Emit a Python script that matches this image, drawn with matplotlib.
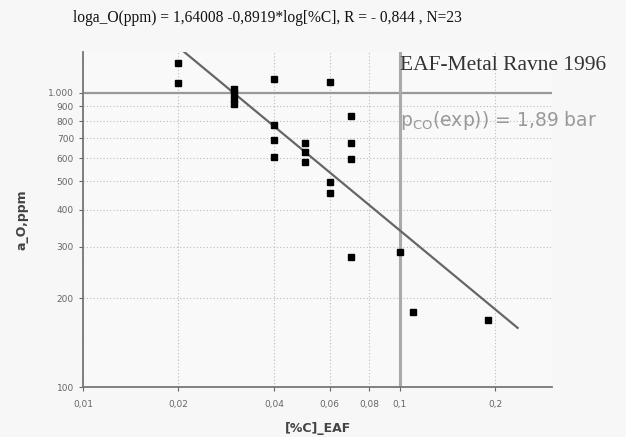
import numpy as np
import matplotlib.pyplot as plt

# data
carbon = [0.02, 0.02, 0.03, 0.03, 0.03, 0.03, 0.04, 0.04, 0.04, 0.04,
          0.05, 0.05, 0.05, 0.06, 0.06, 0.06, 0.07, 0.07, 0.07, 0.07,
          0.10, 0.11, 0.19]
a_oxygen = [1262, 1079, 1030, 998, 952, 918, 1116, 778, 692, 607,
            674, 631, 583, 1093, 499, 456, 835, 678, 595, 276,
            288, 180, 169]

# regression from title
b0 = 1.64008
b1 = -0.8919
fit_x = [0.0207, 0.235]

xticks = [0.01, 0.02, 0.04, 0.06, 0.08, 0.1, 0.2]
xticklabels = ['0,01', '0,02', '0,04', '0,06', '0,08', '0,1', '0,2']
yticks = [100, 200, 300, 400, 500, 600, 700, 800, 900, 1000]
yticklabels = ['100', '200', '300', '400', '500', '600', '700', '800', '900', '1.000']

fig = plt.figure(figsize=(6.26, 4.37), dpi=100, facecolor='#f7f7f7')
ax = fig.add_axes([0.1326, 0.1144, 0.7494, 0.7666])
ax.set_facecolor('#f9f9f9')

ax.set_xscale('log')
ax.set_yscale('log')
ax.set_xlim(0.01, 0.302)
ax.set_ylim(100, 1377)

ax.set_xticks(xticks)
ax.set_xticklabels(xticklabels)
ax.set_yticks(yticks)
ax.set_yticklabels(yticklabels)
ax.minorticks_off()
ax.tick_params(axis='both', labelsize=6.5, colors='#666666', length=3, width=0.8)
ax.tick_params(axis='x', pad=6)

ax.grid(True, which='major', linestyle=(0, (1, 2)), color='#bbbbbb', linewidth=0.8)
for s in ['top', 'right']:
    ax.spines[s].set_visible(False)
for s in ['left', 'bottom']:
    ax.spines[s].set_color('#777777')
    ax.spines[s].set_linewidth(1.3)

# reference lines
ax.axhline(1000, color='#999999', linewidth=1.6, zorder=2)
ax.axvline(0.1, color='#aaaaaa', linewidth=2.2, zorder=2)

fx = np.array(fit_x)
fy = 10 ** (b0 + b1 * np.log10(fx))
ax.plot(fx, fy, color='#666666', linewidth=1.6, zorder=3)

ax.plot(carbon, a_oxygen, 's', color='black', markersize=4.5, zorder=4)

fig.text(0.427, 0.958, 'loga_O(ppm) = 1,64008 -0,8919*log[%C], R = - 0,844 , N=23',
         ha='center', va='center', fontsize=11.2, family='Liberation Serif', color='#111111')
fig.text(0.639, 0.851, 'EAF-Metal Ravne 1996', ha='left', va='center',
         fontsize=15.5, family='Liberation Serif', color='#333333')
fig.text(0.639, 0.725, r'p$_{\mathrm{CO}}$(exp)) = 1,89 bar', ha='left', va='center',
         fontsize=13.5, color='#999999')

ax.set_xlabel('[%C]_EAF', fontsize=9, fontweight='bold', color='#444444', labelpad=10)
ax.set_ylabel('a_O,ppm', fontsize=9, fontweight='bold', color='#444444', labelpad=14)

fig.savefig('out.png', dpi=100, facecolor=fig.get_facecolor())
